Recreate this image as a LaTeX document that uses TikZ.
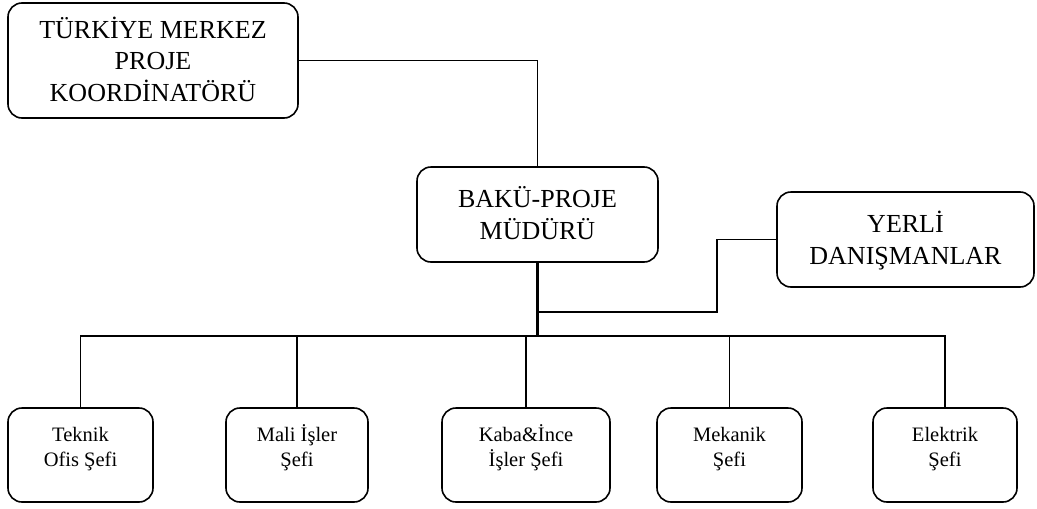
\documentclass[tikz,border=0pt]{standalone}
\usepackage{fontspec}
\setmainfont{Liberation Serif}
% struts that fix the height of the first line and the depth of the last one
\newcommand\hiS{\rule{0pt}{0.95em}}
\newcommand\loS{\rule[-0.25em]{0pt}{0.25em}}
\begin{document}
\begin{tikzpicture}[x=1pt,y=-1pt,
  box/.style={draw, line width=1.6pt, rounded corners=14pt, inner sep=0pt, align=center},
  bigtext/.style={font=\fontsize{26}{31.5}\selectfont},
  smalltext/.style={font=\fontsize{20.5}{25}\selectfont, align=center, inner sep=0pt},
  chief/.style={box, minimum height=94pt},
  link/.style={line width=1.3pt},
  trunk/.style={line width=2.4pt}]
\useasboundingbox (0,0) rectangle (1037,509);

% upper levels
\node[box, bigtext, minimum width=290pt, minimum height=115pt] (koord) at (153,60.5)
  {\hiS TÜRKİYE MERKEZ\\PROJE\\KOORDİNATÖRÜ\loS};
\node[box, bigtext, minimum width=241pt, minimum height=95pt] (mudur) at (537.5,214.5)
  {\hiS BAKÜ-PROJE\\MÜDÜRÜ\loS};
\node[box, bigtext, minimum width=257pt, minimum height=95pt] (danis) at (905.5,239.5)
  {\hiS YERLİ\\DANIŞMANLAR\loS};

% department chiefs
\node[chief, minimum width=145pt] (teknik) at (80.5,455) {};
\node[chief, minimum width=142pt] (mali) at (297,455) {};
\node[chief, minimum width=168pt] (kaba) at (526,455) {};
\node[chief, minimum width=145pt] (mekanik) at (729.5,455) {};
\node[chief, minimum width=144pt] (elektrik) at (945,455) {};

\node[smalltext] (teknikT) at (80.5,447.3) {\hiS Teknik\\Ofis Şefi\loS};
\node[smalltext] (maliT) at (297,447.3) {\hiS Mali İşler\\Şefi\loS};
\node[smalltext] (kabaT) at (526,447.3) {\hiS Kaba\&İnce\\İşler Şefi\loS};
\node[smalltext] (mekanikT) at (729.5,447.3) {\hiS Mekanik\\Şefi\loS};
\node[smalltext] (elektrikT) at (945,447.3) {\hiS Elektrik\\Şefi\loS};

% connectors
\coordinate (hub) at (537.5,336);
\coordinate (elbow) at (717,312);
\draw[link] (koord.east) -| (mudur.north);
\draw[trunk] (mudur.south) -- (hub);
\draw[link] (danis.west) -| (elbow) -- (elbow -| hub);
\draw[link] (teknik.north) |- (hub) -| (elektrik.north);
\foreach \n in {mali,kaba,mekanik}
  \draw[link] (\n.north) -- (\n.north |- hub);
\end{tikzpicture}
\end{document}
